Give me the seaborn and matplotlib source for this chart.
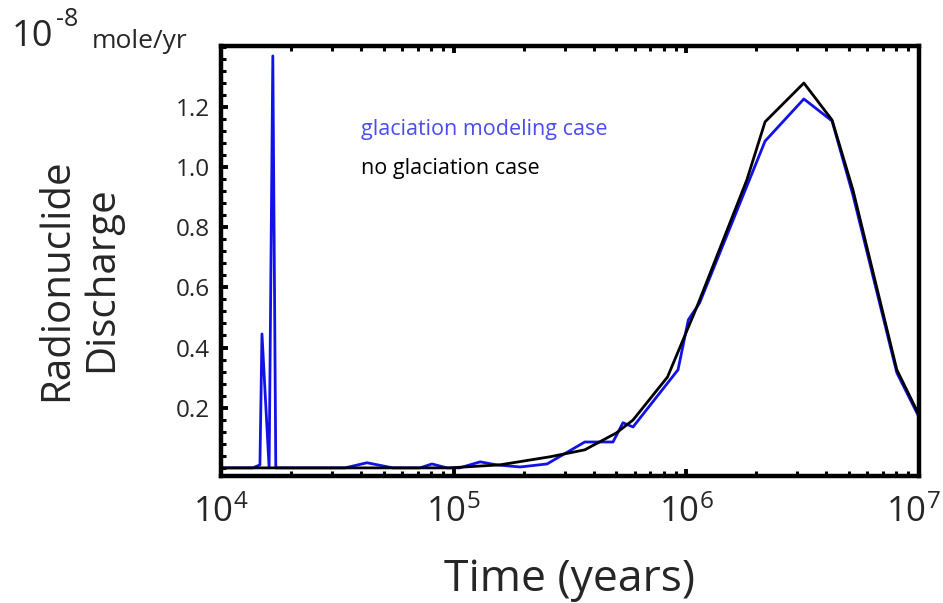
import numpy as np
import pandas as pd
import matplotlib
matplotlib.use("Agg")
import matplotlib.pyplot as plt
import matplotlib.ticker as mticker
import matplotlib.transforms as mtransforms
import seaborn as sns

# ---- data (years, 1e-8 mole/yr) ----
glac_years = [1.0e4, 1.37e4, 1.47e4, 1.50e4, 1.61e4, 1.67e4, 1.72e4, 3.41e4, 4.24e4,
              5.48e4, 7.16e4, 8.07e4, 9.36e4, 1.06e5, 1.30e5, 1.53e5, 1.93e5, 2.52e5,
              3.66e5, 4.84e5, 5.34e5, 5.90e5, 9.21e5, 1.02e6, 1.14e6, 2.18e6, 3.20e6,
              4.23e6, 5.20e6, 8.03e6, 1.0e7]
glac_vals = [0.0, 0.0, 0.01, 0.445, 0.0, 1.369, 0.0, 0.0, 0.017,
             0.0, 0.0, 0.013, 0.0, 0.0, 0.02, 0.01, 0.003, 0.013,
             0.086, 0.086, 0.15, 0.136, 0.326, 0.492, 0.548, 1.086, 1.226,
             1.153, 0.907, 0.316, 0.169]

noglac_years = [1.0e4, 9.6e4, 1.58e5, 2.6e5, 3.66e5, 5.0e5, 5.9e5, 8.3e5, 1.11e6,
                1.82e6, 2.18e6, 3.2e6, 4.23e6, 5.2e6, 8.03e6, 1.0e7]
noglac_vals = [0.0, 0.0, 0.01, 0.037, 0.06, 0.116, 0.159, 0.302, 0.535,
               0.957, 1.150, 1.279, 1.156, 0.924, 0.326, 0.176]

y_ticks = [0.2, 0.4, 0.6, 0.8, 1.0, 1.2]
x_ticks = [1e4, 1e5, 1e6, 1e7]

sns.set_theme(style="white")
plt.rcParams["font.family"] = ["Open Sans", "DejaVu Sans"]
plt.rcParams["mathtext.fontset"] = "custom"
plt.rcParams["mathtext.rm"] = "Open Sans"
plt.rcParams["mathtext.it"] = "Open Sans:italic"
plt.rcParams["mathtext.bf"] = "Open Sans:bold"

LINE_BLUE = "#1212e8"
TEXT_BLUE = "#4c4cf0"

fig = plt.figure(figsize=(9.43, 6.03), dpi=100)
ax = fig.add_axes([221 / 943, 1 - 476 / 603, (919 - 221) / 943, (476 - 46) / 603])

df_g = pd.DataFrame({"t": glac_years, "v": glac_vals})
df_n = pd.DataFrame({"t": noglac_years, "v": noglac_vals})
sns.lineplot(data=df_g, x="t", y="v", ax=ax, color=LINE_BLUE, lw=2.0,
             estimator=None, sort=False)
sns.lineplot(data=df_n, x="t", y="v", ax=ax, color="black", lw=2.0,
             estimator=None, sort=False)

ax.set_xscale("log")
ax.set_xlim(1e4, 1e7)
ax.set_ylim(-0.027, 1.402)
ax.set_xticks(x_ticks)
ax.xaxis.set_major_formatter(mticker.LogFormatterMathtext())
ax.xaxis.set_minor_locator(mticker.LogLocator(base=10, subs=np.arange(2, 10)))
ax.xaxis.set_minor_formatter(mticker.NullFormatter())
ax.set_yticks(y_ticks)
ax.set_yticklabels([f"{v:.1f}" for v in y_ticks])
ax.yaxis.set_minor_locator(mticker.MultipleLocator(0.04))

for s in ax.spines.values():
    s.set_color("black")
    s.set_linewidth(3.2)

ax.tick_params(axis="both", which="both", direction="in", color="black",
               top=True, bottom=True, left=True, right=False)
ax.tick_params(axis="both", which="major", length=5, width=2.8)
ax.tick_params(axis="both", which="minor", length=3.5, width=2.2)
ax.tick_params(axis="x", which="major", labelsize=25, pad=14)
ax.tick_params(axis="y", which="major", labelsize=17.5, pad=8)

# keep the last x tick label inside the figure
last = ax.get_xticklabels()[-1]
last.set_transform(last.get_transform() +
                   mtransforms.ScaledTranslation(-6 / 100, 0, fig.dpi_scale_trans))

ax.set_xlabel("Time (years)", fontsize=32)
ax.xaxis.set_label_coords(0.5, -0.19)
ax.set_ylabel("Radionuclide\nDischarge", fontsize=29, linespacing=1.15)
ax.yaxis.set_label_coords(-0.142, 0.457)

ax.text(0.2, 0.805, "glaciation modeling case", transform=ax.transAxes,
        color=TEXT_BLUE, fontsize=15.5, va="center", ha="left")
ax.text(0.2, 0.716, "no glaciation case", transform=ax.transAxes,
        color="black", fontsize=15.5, va="center", ha="left")

fig.text(12 / 943, 1 - 37 / 603, "10", fontsize=26, ha="left", va="center")
fig.text(56 / 943, 1 - 19 / 603, "-8", fontsize=18, ha="left", va="center")
fig.text(92 / 943, 1 - 41 / 603, "mole/yr", fontsize=19, ha="left", va="center")

ax.set_facecolor("white")
fig.patch.set_facecolor("white")
fig.savefig("out.png", dpi=100)
